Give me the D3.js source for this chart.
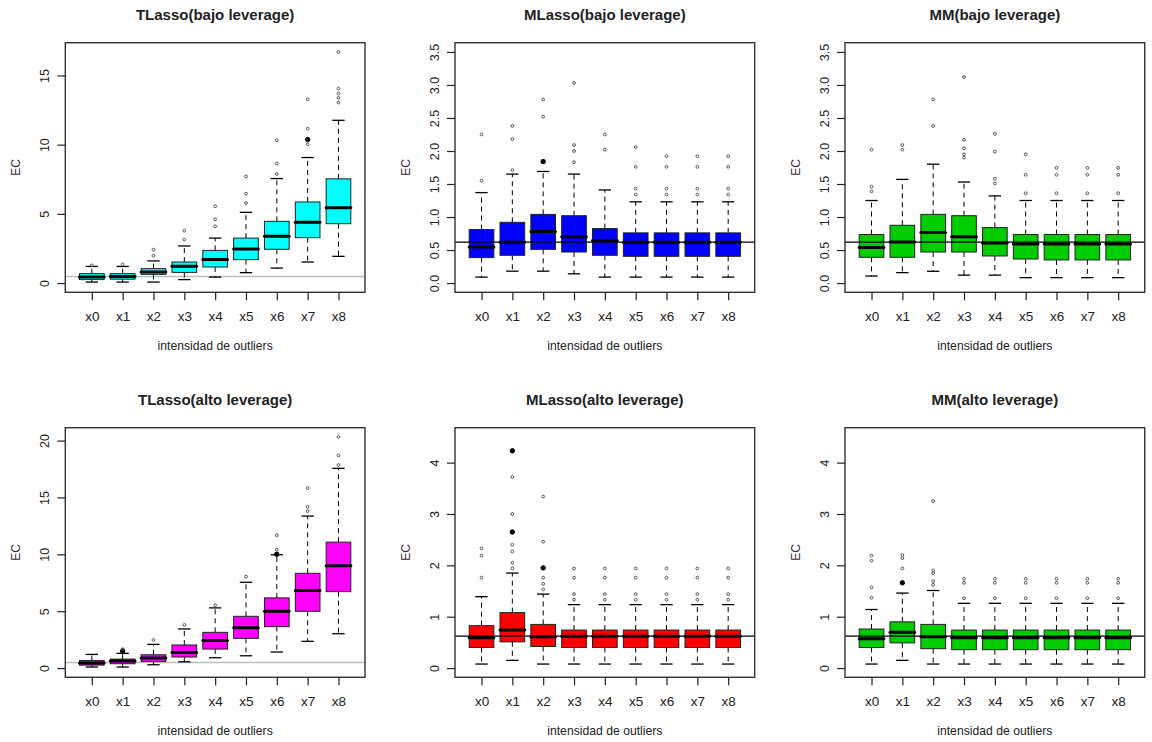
<!DOCTYPE html>
<html>
<head>
<meta charset="utf-8">
<script src="https://cdn.jsdelivr.net/npm/d3@7"></script>
<style>
  html, body { margin: 0; padding: 0; background: #fff; }
  svg { display: block; font-family: "Liberation Sans", Arial, sans-serif; }
</style>
</head>
<body>
<svg id="chart" width="1152" height="742"></svg>
<script>
// Groups on the x axis (outlier intensity levels)
const groups = ["x0", "x1", "x2", "x3", "x4", "x5", "x6", "x7", "x8"];

// Box statistics per group: [lower whisker, Q1, median, Q3, upper whisker]
const tlassoBajo = [
  [0.07, 0.25, 0.43, 0.68, 1.20],
  [0.07, 0.28, 0.48, 0.68, 1.20],
  [0.07, 0.63, 0.80, 1.04, 1.60],
  [0.25, 0.77, 1.21, 1.52, 2.68],
  [0.43, 1.16, 1.71, 2.36, 3.25],
  [0.75, 1.69, 2.46, 3.25, 5.11],
  [1.08, 2.44, 3.38, 4.46, 7.55],
  [1.52, 3.28, 4.39, 5.86, 9.07],
  [1.93, 4.29, 5.45, 7.53, 11.76]
];
const tlassoBajoOut = [
  [1.28], [1.35], [1.98, 2.41], [3.14, 3.79], [4.10, 4.60, 5.55],
  [5.78, 6.46, 7.71], [7.88, 8.63, 10.32],
  [10.03, 10.37, 10.37, 11.16, 13.28],
  [13.04, 13.38, 13.69, 14.05, 16.70]
];

const mlassoBajo = [
  [0.09, 0.385, 0.546, 0.81, 1.37],
  [0.18, 0.42, 0.618, 0.92, 1.65],
  [0.18, 0.51, 0.78, 1.04, 1.69],
  [0.14, 0.47, 0.70, 1.02, 1.65],
  [0.09, 0.42, 0.643, 0.825, 1.41],
  [0.09, 0.405, 0.617, 0.76, 1.23],
  [0.09, 0.405, 0.617, 0.76, 1.23],
  [0.09, 0.405, 0.617, 0.76, 1.23],
  [0.09, 0.405, 0.617, 0.76, 1.23]
];
const mlassoBajoOut = [
  [1.55, 2.25], [1.71, 2.18, 2.38], [1.84, 1.84, 2.52, 2.78],
  [1.83, 2.00, 2.09, 3.03], [2.02, 2.25], [1.34, 1.43, 1.76, 2.06],
  [1.34, 1.43, 1.76, 1.92], [1.34, 1.43, 1.76, 1.92], [1.34, 1.43, 1.76, 1.92]
];

const mmBajo = [
  [0.106, 0.39, 0.537, 0.735, 1.25],
  [0.158, 0.39, 0.622, 0.875, 1.57],
  [0.178, 0.47, 0.765, 1.04, 1.80],
  [0.12, 0.47, 0.70, 1.02, 1.53],
  [0.12, 0.41, 0.607, 0.84, 1.32],
  [0.082, 0.364, 0.592, 0.735, 1.25],
  [0.082, 0.35, 0.592, 0.735, 1.25],
  [0.082, 0.35, 0.592, 0.735, 1.25],
  [0.082, 0.35, 0.592, 0.735, 1.25]
];
const mmBajoOut = [
  [1.39, 1.46, 2.02], [2.02, 2.09], [2.38, 2.78],
  [1.90, 1.95, 2.04, 2.17, 3.12], [1.51, 1.58, 1.99, 2.26],
  [1.36, 1.64, 1.95], [1.36, 1.64, 1.745], [1.36, 1.64, 1.745], [1.36, 1.64, 1.745]
];

const tlassoAlto = [
  [0.09, 0.26, 0.44, 0.67, 1.20],
  [0.09, 0.38, 0.62, 0.79, 1.29],
  [0.29, 0.58, 0.88, 1.17, 2.08],
  [0.55, 0.97, 1.37, 2.03, 3.44],
  [0.91, 1.67, 2.43, 3.14, 5.29],
  [1.08, 2.61, 3.55, 4.55, 7.54],
  [1.41, 3.64, 4.99, 6.17, 9.96],
  [2.35, 4.99, 6.81, 8.33, 13.36],
  [3.02, 6.72, 8.99, 11.07, 17.56]
];
const tlassoAltoOut = [
  [], [1.50, 1.50, 1.67], [2.47], [3.79], [5.52], [8.04],
  [10.00, 10.00, 10.40, 11.68], [13.80, 14.18, 15.82], [17.85, 18.68, 20.32]
];

const mlassoAlto = [
  [0.078, 0.40, 0.59, 0.825, 1.39],
  [0.15, 0.51, 0.74, 1.08, 1.85],
  [0.078, 0.42, 0.61, 0.85, 1.44],
  [0.078, 0.40, 0.617, 0.74, 1.235],
  [0.078, 0.40, 0.617, 0.74, 1.235],
  [0.078, 0.40, 0.617, 0.74, 1.235],
  [0.078, 0.40, 0.617, 0.74, 1.235],
  [0.078, 0.40, 0.617, 0.74, 1.235],
  [0.078, 0.40, 0.617, 0.74, 1.235]
];
const mlassoAltoOut = [
  [1.76, 2.19, 2.33],
  [1.94, 2.05, 2.27, 2.40, 2.65, 2.65, 3.00, 3.72, 4.23, 4.23],
  [1.53, 1.64, 1.76, 1.95, 1.95, 2.46, 3.34],
  [1.33, 1.44, 1.76, 1.94], [1.33, 1.44, 1.76, 1.94], [1.33, 1.44, 1.76, 1.94],
  [1.33, 1.44, 1.76, 1.94], [1.33, 1.44, 1.76, 1.94], [1.33, 1.44, 1.76, 1.94]
];

const mmAlto = [
  [0.078, 0.40, 0.57, 0.76, 1.14],
  [0.15, 0.49, 0.695, 0.90, 1.46],
  [0.078, 0.377, 0.61, 0.85, 1.51],
  [0.078, 0.357, 0.59, 0.74, 1.26],
  [0.078, 0.357, 0.59, 0.74, 1.26],
  [0.078, 0.357, 0.59, 0.74, 1.26],
  [0.078, 0.357, 0.59, 0.74, 1.26],
  [0.078, 0.357, 0.59, 0.74, 1.26],
  [0.078, 0.357, 0.59, 0.74, 1.26]
];
const mmAltoOut = [
  [1.37, 1.57, 2.09, 2.19], [1.66, 1.66, 1.94, 2.14, 2.20],
  [1.62, 1.69, 1.85, 1.90, 3.25],
  [1.36, 1.66, 1.74], [1.36, 1.66, 1.74], [1.36, 1.66, 1.74],
  [1.36, 1.66, 1.74], [1.36, 1.66, 1.74], [1.36, 1.66, 1.74]
];

// Axis limits and tick values
const tlassoBajoLim = [0, 16.7];
const tlassoAltoLim = [0, 20.32];
const bajoLim = [0, 3.5];
const altoLim = [0, 4.5];
const tlassoBajoTicks = [0, 5, 10, 15];
const tlassoAltoTicks = [0, 5, 10, 15, 20];
const bajoTicks = [0, 0.5, 1, 1.5, 2, 2.5, 3, 3.5];
const altoTicks = [0, 1, 2, 3, 4];

// Horizontal reference levels
const tlassoRef = 0.48;
const robustRef = 0.62;

const panels = [
  { title: "TLasso(bajo leverage)", stats: tlassoBajo, out: tlassoBajoOut, fill: "#00FFFF",
    lim: tlassoBajoLim, ticks: tlassoBajoTicks, fmt: d3.format("d"), ref: tlassoRef, refColor: "#BEBEBE", refBehind: true, col: 0, row: 0 },
  { title: "MLasso(bajo leverage)", stats: mlassoBajo, out: mlassoBajoOut, fill: "#0000FF",
    lim: bajoLim, ticks: bajoTicks, fmt: d3.format(".1f"), ref: robustRef, refColor: "#000", refBehind: false, col: 1, row: 0 },
  { title: "MM(bajo leverage)", stats: mmBajo, out: mmBajoOut, fill: "#00CD00",
    lim: bajoLim, ticks: bajoTicks, fmt: d3.format(".1f"), ref: robustRef, refColor: "#000", refBehind: false, col: 2, row: 0 },
  { title: "TLasso(alto leverage)", stats: tlassoAlto, out: tlassoAltoOut, fill: "#FF00FF",
    lim: tlassoAltoLim, ticks: tlassoAltoTicks, fmt: d3.format("d"), ref: tlassoRef, refColor: "#BEBEBE", refBehind: true, col: 0, row: 1 },
  { title: "MLasso(alto leverage)", stats: mlassoAlto, out: mlassoAltoOut, fill: "#FF0000",
    lim: altoLim, ticks: altoTicks, fmt: d3.format("d"), ref: robustRef, refColor: "#000", refBehind: false, col: 1, row: 1 },
  { title: "MM(alto leverage)", stats: mmAlto, out: mmAltoOut, fill: "#00CD00",
    lim: altoLim, ticks: altoTicks, fmt: d3.format("d"), ref: robustRef, refColor: "#000", refBehind: false, col: 2, row: 1 }
];

// Plot-region geometry for the 3 x 2 grid
const colLeft = [65.3, 455, 845];
const rowTop = [42.7, 427.7];
const plotW = 299.7;
const plotH = 249.6;
const tickLen = 8;
const textColor = "#222";
const fontStack = "Liberation Sans, Arial, sans-serif";

const svg = d3.select("#chart");

// Extend a range by 4% on each side
function extend(lim) {
  const d = (lim[1] - lim[0]) * 0.04;
  return [lim[0] - d, lim[1] + d];
}

panels.forEach(p => {
  const x0 = colLeft[p.col], y0 = rowTop[p.row];
  const g = svg.append("g").attr("transform", `translate(${x0},${y0})`);

  const x = d3.scaleLinear().domain(extend([0.5, groups.length + 0.5])).range([0, plotW]);
  const y = d3.scaleLinear().domain(extend(p.lim)).range([plotH, 0]);
  const halfBox = x(0.4) - x(0);
  const halfCap = x(0.2) - x(0);

  // Reference line drawn under the boxes
  if (p.refBehind) {
    g.append("line").attr("x1", 0).attr("x2", plotW)
      .attr("y1", y(p.ref)).attr("y2", y(p.ref))
      .attr("stroke", p.refColor).attr("stroke-width", 1.5);
  }

  const box = g.selectAll("g.box").data(p.stats).join("g").attr("class", "box")
    .attr("transform", (d, i) => `translate(${x(i + 1)},0)`);

  // Dashed whiskers
  box.append("line").attr("x1", 0).attr("x2", 0)
    .attr("y1", d => y(d[3])).attr("y2", d => y(d[4]))
    .attr("stroke", "#000").attr("stroke-dasharray", "5,4");
  box.append("line").attr("x1", 0).attr("x2", 0)
    .attr("y1", d => y(d[1])).attr("y2", d => y(d[0]))
    .attr("stroke", "#000").attr("stroke-dasharray", "5,4");

  // Staples
  box.append("line").attr("x1", -halfCap).attr("x2", halfCap)
    .attr("y1", d => y(d[4])).attr("y2", d => y(d[4]))
    .attr("stroke", "#000").attr("stroke-width", 1.3);
  box.append("line").attr("x1", -halfCap).attr("x2", halfCap)
    .attr("y1", d => y(d[0])).attr("y2", d => y(d[0]))
    .attr("stroke", "#000").attr("stroke-width", 1.3);

  // Box from Q1 to Q3
  box.append("rect").attr("x", -halfBox).attr("width", 2 * halfBox)
    .attr("y", d => y(d[3])).attr("height", d => y(d[1]) - y(d[3]))
    .attr("fill", p.fill).attr("stroke", "#222").attr("stroke-width", 1);

  // Median
  box.append("line").attr("x1", -halfBox).attr("x2", halfBox)
    .attr("y1", d => y(d[2])).attr("y2", d => y(d[2]))
    .attr("stroke", "#000").attr("stroke-width", 3).attr("stroke-linecap", "round");

  // Outliers: repeated values are drawn as solid dots
  p.out.forEach((vals, i) => {
    const counts = d3.rollups(vals, v => v.length, v => v);
    g.selectAll(null).data(counts).join("circle")
      .attr("cx", x(i + 1)).attr("cy", d => y(d[0]))
      .attr("r", d => d[1] > 1 ? 2.2 : 1.4)
      .attr("fill", d => d[1] > 1 ? "#000" : "none")
      .attr("stroke", d => d[1] > 1 ? "#000" : "#555")
      .attr("stroke-width", 1);
  });

  // Reference line drawn over the boxes
  if (!p.refBehind) {
    g.append("line").attr("x1", 0).attr("x2", plotW)
      .attr("y1", y(p.ref)).attr("y2", y(p.ref))
      .attr("stroke", p.refColor).attr("stroke-width", 1.2);
  }

  // Plot frame
  g.append("rect").attr("x", 0).attr("y", 0).attr("width", plotW).attr("height", plotH)
    .attr("fill", "none").attr("stroke", "#333").attr("stroke-width", 1.4);

  // X axis
  const xAxis = g.append("g").attr("transform", `translate(0,${plotH})`)
    .call(d3.axisBottom(x).tickValues(d3.range(1, groups.length + 1))
      .tickFormat(i => groups[i - 1]).tickSize(tickLen).tickPadding(8));
  xAxis.select(".domain").remove();
  xAxis.selectAll(".tick line").attr("stroke", "#222").attr("stroke-width", 1.2);
  xAxis.selectAll(".tick text")
    .attr("y", null).attr("dy", null)
    .attr("transform", "translate(0,24)")
    .attr("dominant-baseline", "central")
    .attr("fill", textColor)
    .style("font-size", "13.5px").style("font-family", fontStack);

  // Y axis with labels rotated parallel to the axis
  const yAxis = g.append("g")
    .call(d3.axisLeft(y).tickValues(p.ticks).tickFormat(p.fmt).tickSize(tickLen));
  yAxis.select(".domain").remove();
  yAxis.selectAll(".tick line").attr("stroke", "#222").attr("stroke-width", 1.2);
  yAxis.selectAll(".tick text")
    .attr("x", null).attr("dy", null)
    .attr("transform", "translate(-20,0) rotate(-90)")
    .attr("text-anchor", "middle").attr("dominant-baseline", "central")
    .attr("fill", textColor)
    .style("font-size", "12.5px").style("font-family", fontStack);

  // Titles
  g.append("text").attr("x", plotW / 2).attr("y", -28)
    .attr("text-anchor", "middle").attr("dominant-baseline", "central")
    .attr("font-weight", "bold").attr("font-size", 15).attr("fill", textColor)
    .text(p.title);
  g.append("text").attr("x", plotW / 2).attr("y", plotH + 53.5)
    .attr("text-anchor", "middle").attr("dominant-baseline", "central")
    .attr("font-size", 12.2).attr("fill", textColor)
    .text("intensidad de outliers");
  g.append("text").attr("transform", `translate(-49,${plotH / 2}) rotate(-90)`)
    .attr("text-anchor", "middle").attr("dominant-baseline", "central")
    .attr("font-size", 12).attr("fill", "#3a1f3a")
    .text("EC");
});
</script>
</body>
</html>
